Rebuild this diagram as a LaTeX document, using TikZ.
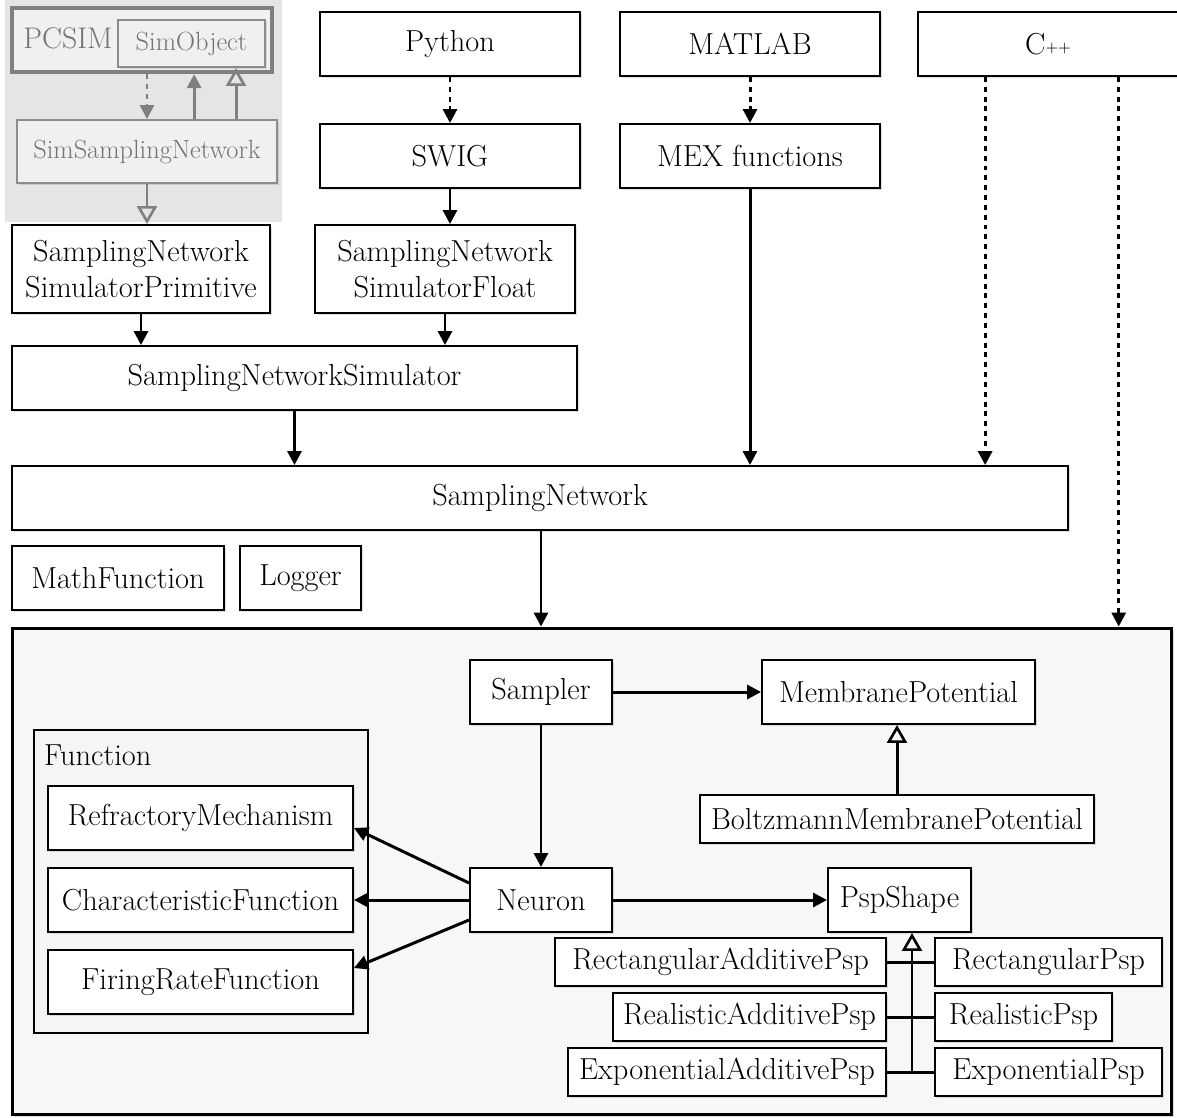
\documentclass[tikz,border=0pt]{standalone}
\usepackage{tikz}
\usetikzlibrary{positioning}
\usetikzlibrary{arrows.meta}
\usetikzlibrary{calc}
\usetikzlibrary{shadows}

\tikzset{
	cls/.style={draw,line width=1.1pt,fill=white,inner sep=0pt,align=center,
		font=\fontsize{17.3}{20.5}\selectfont,
		drop shadow={shadow xshift=1.2pt,shadow yshift=-1.2pt,opacity=0.25}},
	pcsimcls/.style={cls,draw=black!45,text=black!55,fill=black!6,font=\fontsize{15}{18}\selectfont},
	uses/.style={line width=1.7pt,-{Triangle[length=0.28cm,width=0.28cm]}},
	binds/.style={uses,dash pattern=on 2.8pt off 2.8pt},
	isa/.style={line width=1.7pt,-{Triangle[open,length=0.36cm,width=0.4cm,line width=1.5pt]}}
}

\begin{document}
\begin{tikzpicture}[x=0.02cm,y=-0.02cm]
	\useasboundingbox (0,0) rectangle (1177,1117);
	% PCSIM part (greyed out)
	\fill[black!10] (5,0) rectangle (282,222);
	\node[pcsimcls,line width=2.4pt,draw=black!50,minimum width=5.2cm,minimum height=1.28cm] (pcsim) at (142,40) {};
	\node[text=black!55,font=\fontsize{17}{20}\selectfont] at (68,38) {PCSIM};
	\node[pcsimcls,minimum width=2.94cm,minimum height=0.94cm] (simobj) at (191.5,43.5) {SimObject};
	\node[pcsimcls,minimum width=5.2cm,minimum height=1.26cm] (simsn) at (147,151.5) {SimSamplingNetwork};
	% interfaces
	\node[cls,minimum width=5.2cm,minimum height=1.28cm] (python) at (450,44) {Python};
	\node[cls,minimum width=5.2cm,minimum height=1.28cm] (swig) at (450,156) {SWIG};
	\node[cls,minimum width=5.2cm,minimum height=1.28cm] (matlab) at (750,44) {MATLAB};
	\node[cls,minimum width=5.2cm,minimum height=1.28cm] (mex) at (750,156) {MEX functions};
	\node[cls,minimum width=5.2cm,minimum height=1.28cm] (cpp) at (1048,44) {C\raisebox{0.15ex}{\small ++}};
	% simulators
	\node[cls,minimum width=5.16cm,minimum height=1.76cm] (snsp) at (141,269) {SamplingNetwork\\SimulatorPrimitive};
	\node[cls,minimum width=5.2cm,minimum height=1.76cm] (snsf) at (445,269) {SamplingNetwork\\SimulatorFloat};
	\node[cls,minimum width=11.3cm,minimum height=1.28cm] (sns) at (294.5,378) {SamplingNetworkSimulator};
	\node[cls,minimum width=21.12cm,minimum height=1.28cm] (sn) at (540,498) {SamplingNetwork};
	\node[cls,minimum width=4.24cm,minimum height=1.28cm] (mathfn) at (118,578) {MathFunction};
	\node[cls,minimum width=2.42cm,minimum height=1.28cm] (logger) at (300.5,578) {Logger};
	% core
	\node[draw,line width=1.7pt,fill=black!3,minimum width=23.2cm,minimum height=9.74cm,
		drop shadow={shadow xshift=1.2pt,shadow yshift=-1.2pt,opacity=0.25}] (core) at (592,871.5) {};
	\node[draw,line width=0.8pt,fill=black!4,minimum width=6.68cm,minimum height=6.06cm] (fngroup) at (201,881.5) {};
	\node[anchor=west,font=\fontsize{17.3}{20.5}\selectfont] at (38,755) {Function};
	\node[cls,minimum width=2.84cm,minimum height=1.28cm] (sampler) at (541,692) {Sampler};
	\node[cls,minimum width=5.46cm,minimum height=1.28cm] (mempot) at (898.5,692) {MembranePotential};
	\node[cls,minimum width=7.88cm,minimum height=0.96cm] (boltz) at (897,819) {BoltzmannMembranePotential};
	\node[cls,minimum width=2.84cm,minimum height=1.28cm] (neuron) at (541,900) {Neuron};
	\node[cls,minimum width=2.86cm,minimum height=1.28cm] (psp) at (899.5,900) {PspShape};
	\node[cls,minimum width=6.1cm,minimum height=1.28cm] (refr) at (200.5,818) {RefractoryMechanism};
	\node[cls,minimum width=6.1cm,minimum height=1.28cm] (charfn) at (200.5,900) {CharacteristicFunction};
	\node[cls,minimum width=6.1cm,minimum height=1.28cm] (firing) at (200.5,982) {FiringRateFunction};
	\node[cls,minimum width=6.62cm,minimum height=0.96cm] (rectadd) at (720.5,962) {RectangularAdditivePsp};
	\node[cls,minimum width=5.46cm,minimum height=0.96cm] (realadd) at (749.5,1017) {RealisticAdditivePsp};
	\node[cls,minimum width=6.36cm,minimum height=0.96cm] (expadd) at (727,1072) {ExponentialAdditivePsp};
	\node[cls,minimum width=4.54cm,minimum height=0.96cm] (rectpsp) at (1048.5,962) {RectangularPsp};
	\node[cls,minimum width=3.54cm,minimum height=0.96cm] (realpsp) at (1023.5,1017) {RealisticPsp};
	\node[cls,minimum width=4.54cm,minimum height=0.96cm] (exppsp) at (1048.5,1072) {ExponentialPsp};

	% PCSIM connectors
	\coordinate (simsnA) at ($(simsn.north west)!.68!(simsn.north east)$);
	\coordinate (simsnB) at ($(simsn.north west)!.84!(simsn.north east)$);
	\begin{scope}[black!50]
		\draw[binds] (simsn.north |- pcsim.south) -- (simsn.north);
		\draw[uses] (simsnA) -- (simsnA |- pcsim.south);
		\draw[isa] (simsnB) -- (simsnB |- simobj.south);
		\draw[isa] (simsn.south) -- (simsn.south |- snsp.north);
	\end{scope}
	% interface connectors
	\draw[binds] (python) -- (swig);
	\draw[uses] (swig.south) -- (swig.south |- snsf.north);
	\draw[binds] (matlab) -- (mex);
	\draw[uses] (mex.south) -- (mex.south |- sn.north);
	\coordinate (cppA) at ($(cpp.south west)!.26!(cpp.south east)$);
	\coordinate (cppB) at ($(cpp.south west)!.77!(cpp.south east)$);
	\draw[binds] (cppA) -- (cppA |- sn.north);
	\draw[binds] (cppB) -- (cppB |- core.north);
	\draw[uses] (snsp.south) -- (snsp.south |- sns.north);
	\draw[uses] (snsf.south) -- (snsf.south |- sns.north);
	\draw[uses] (sns.south) -- (sns.south |- sn.north);
	\draw[uses] (sn.south -| sampler) -- (core.north -| sampler);
	% core connectors
	\draw[uses] (sampler) -- (mempot);
	\draw[uses] (sampler) -- (neuron);
	\draw[isa] (boltz.north) -- (boltz.north |- mempot.south);
	\draw[uses] (neuron) -- (psp);
	\draw[uses] ([yshift=0.34cm]neuron.west) -- ([yshift=-0.2cm]refr.east);
	\draw[uses] (neuron.west) -- (charfn.east);
	\draw[uses] ([yshift=-0.4cm]neuron.west) -- ([yshift=0.28cm]firing.east);
	% Psp inheritance
	\coordinate (bus) at ([xshift=0.25cm]psp.south);
	\draw[line width=1.7pt] (rectadd) -- (rectpsp);
	\draw[line width=1.7pt] (realadd) -- (realpsp);
	\draw[line width=1.7pt] (expadd) -- (exppsp);
	\draw[isa] (bus |- expadd.east) -- (bus);
\end{tikzpicture}
\end{document}
